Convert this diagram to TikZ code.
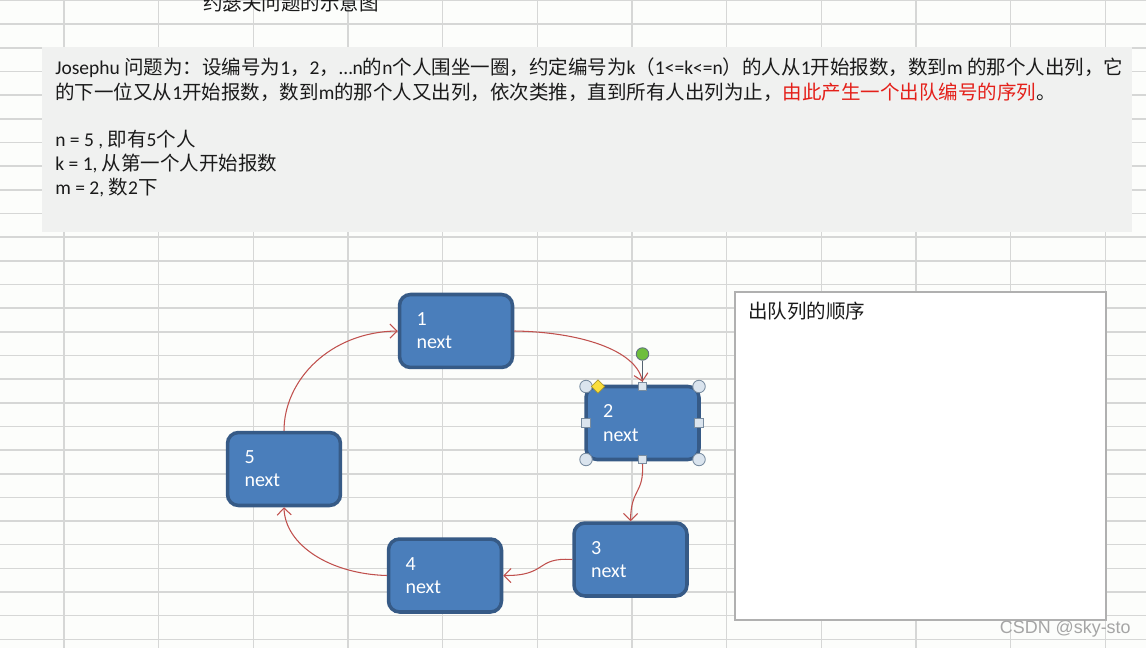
\documentclass[tikz,border=0pt]{standalone}
\usepackage{fontspec}
\setmainfont{Carlito}
\newfontfamily\cjk{Noto Sans CJK SC}
\newfontfamily\wmfont{Liberation Sans}
\usetikzlibrary{arrows.meta,shapes.geometric}
\definecolor{bg}{RGB}{252,253,251}
\definecolor{gridc}{RGB}{214,215,214}
\definecolor{panel}{RGB}{240,241,240}
\definecolor{boxfill}{RGB}{74,126,187}
\definecolor{boxborder}{RGB}{54,90,134}
\definecolor{arrowc}{RGB}{192,80,77}
\definecolor{txt}{RGB}{26,26,26}
\definecolor{redtxt}{RGB}{228,32,26}
\definecolor{framec}{RGB}{176,176,176}
\definecolor{handlefill}{RGB}{218,228,238}
\definecolor{handleline}{RGB}{120,140,160}
\definecolor{diamondc}{RGB}{250,222,60}
\definecolor{greenc}{RGB}{110,190,60}
\definecolor{wmc}{RGB}{165,165,165}
\tikzset{
  box/.style={draw=boxborder, line width=2pt, fill=boxfill, rounded corners=0.22cm,
    minimum width=2.26cm, minimum height=1.46cm, text width=1.58cm, align=left,
    inner sep=0pt, text=white, font=\fontsize{11.4}{13.2}\selectfont},
  link/.style={draw=arrowc, line width=0.6pt, -{Straight Barb[length=4pt,width=8pt]}},
  bodytext/.style={anchor=west, inner sep=0pt, text=txt, font=\fontsize{11.1}{13}\selectfont},
  cornerh/.style={circle, draw=handleline, fill=handlefill, line width=0.5pt, minimum size=0.25cm, inner sep=0pt},
  sideh/.style={rectangle, draw=handleline, fill=handlefill, line width=0.5pt, minimum size=0.17cm, inner sep=0pt},
}
\begin{document}
\begin{tikzpicture}[x=0.02cm,y=-0.02cm]
\useasboundingbox (0,0) rectangle (1146,648);
\clip (0,0) rectangle (1146,648);
\fill[bg] (0,0) rectangle (1146,648);
% spreadsheet grid
\foreach \k in {0,...,11} {
  \pgfmathsetmacro{\gx}{64+94.67*\k}
  \draw[gridc, line width=0.8pt] (\gx,0) -- (\gx,648);
}
\foreach \k in {0,...,27} {
  \pgfmathsetmacro{\gy}{0.5+23.665*\k}
  \draw[gridc, line width=0.8pt] (0,\gy) -- (1146,\gy);
}
% title (cut off at top, as in the reference)
\node[bodytext] (title) at (203,3) {\cjk 约瑟夫问题的示意图};
% description panel
\fill[panel] (42,47) rectangle (1132,232);
\node[bodytext] (l1) at (55,68) {Josephu {\cjk 问题为：设编号为}1{\cjk ，}2{\cjk ，}…n{\cjk 的}n{\cjk 个人围坐一圈，约定编号为}k{\cjk （}1<=k<=n{\cjk ）的人从}1{\cjk 开始报数，数到}m {\cjk 的那个人出列，它}};
\node[bodytext] (l2) at (55,92) {{\cjk 的下一位又从}1{\cjk 开始报数，数到}m{\cjk 的那个人又出列，依次类推，直到所有人出列为止，}{\cjk\color{redtxt}由此产生一个出队编号的序列}{\cjk 。}};
\node[bodytext] (l3) at (55,140) {n = 5 , {\cjk 即有}5{\cjk 个人}};
\node[bodytext] (l4) at (55,164) {k = 1, {\cjk 从第一个人开始报数}};
\node[bodytext] (l5) at (55,188) {m = 2, {\cjk 数}2{\cjk 下}};
% nodes
\node[box] (n1) at (456,331) {1\\next};
\node[box] (n2) at (642.5,423) {2\\next};
\node[box] (n3) at (630.5,559.5) {3\\next};
\node[box] (n4) at (445,575.5) {4\\next};
\node[box] (n5) at (284,469) {5\\next};
% selection handles on node 2
\node[circle, draw=handleline!80!black, fill=greenc, line width=0.5pt, minimum size=0.25cm, inner sep=0pt] (rot) at (642.5,354) {};
\draw[handleline!70!black, line width=0.6pt] (rot.south) -- (642.5,386);
\node[cornerh] (c1) at (586,386.5) {};
\node[cornerh] (c2) at (699,386.5) {};
\node[cornerh] (c3) at (586,459.5) {};
\node[cornerh] (c4) at (699,459.5) {};
\node[sideh] (s1) at (642.5,386.5) {};
\node[sideh] (s2) at (586,423) {};
\node[sideh] (s3) at (699,423) {};
\node[sideh] (s4) at (642.5,459.5) {};
\node[diamond, draw=diamondc!70!black, fill=diamondc, line width=0.4pt, minimum size=0.27cm, inner sep=0pt] (dm) at (598,386.5) {};
% links
\draw[link] (n1.east) .. controls (580,332) and (636,350) .. (s1.north);
\draw[link] (s4.south) .. controls (644,494) and (631,488) .. (n3.north);
\draw[link] (n3.west) .. controls (535,557) and (548,576) .. (n4.east);
\draw[link] (n4.west) .. controls (330,574) and (285,545) .. (n5.south);
\draw[link] (n5.north) .. controls (284,380) and (330,332) .. (n1.west);
% output order box
\node[draw=framec, fill=white, line width=0.8pt, minimum width=7.42cm, minimum height=6.56cm, inner sep=0pt] (out) at (920.5,456) {};
\node[bodytext] (outlabel) at (748,311) {\cjk 出队列的顺序};
% watermark
\node[anchor=east, inner sep=0pt, text=wmc, font=\wmfont\fontsize{10.2}{12}\selectfont] (wm) at (1131,629) {CSDN @sky-sto};
\end{tikzpicture}
\end{document}
